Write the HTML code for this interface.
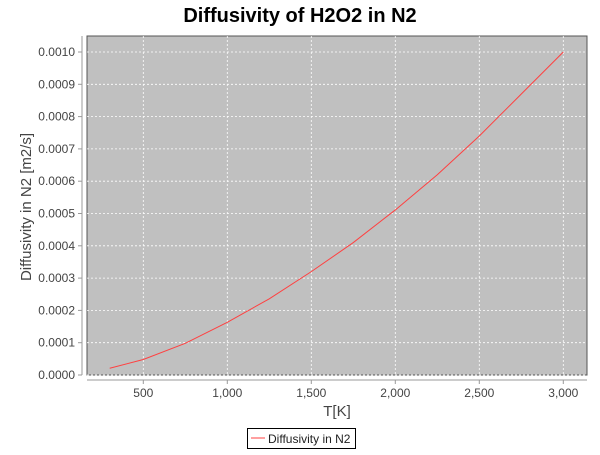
<!DOCTYPE html>
<html><head><meta charset="utf-8"><style>
body{margin:0;background:#fff;}
svg text{font-family:"Liberation Sans",sans-serif;}
</style></head><body>
<svg width="600" height="450">
<text x="300" y="22" text-anchor="middle" font-size="20" font-weight="bold" fill="#000">Diffusivity of H2O2 in N2</text>
<rect x="87" y="36" width="500" height="339" fill="#c0c0c0" stroke="#555" stroke-width="1"/>
<g id="grid"></g>
<line x1="82" y1="36" x2="82" y2="375" stroke="#999"/>
<line x1="87" y1="380" x2="587" y2="380" stroke="#999"/>
<g id="ticks"></g>
<polyline id="series" fill="none" stroke="#ff4040" stroke-width="1"/>
<text x="337" y="416" text-anchor="middle" font-size="15" fill="#444">T[K]</text>
<text transform="translate(31,207) rotate(-90)" text-anchor="middle" font-size="15" fill="#444">Diffusivity in N2 [m2/s]</text>
<g>
<rect x="247.5" y="428.5" width="108" height="20" fill="#fff" stroke="#000"/>
<line x1="251" y1="438" x2="265" y2="438" stroke="#ff4040"/>
<text x="268" y="443" font-size="12" fill="#222">Diffusivity in N2</text>
</g>
</svg>
<script>
const temps=[300,500,750,1000,1250,1500,1750,2000,2250,2500,2750,3000];
const diffs=[0.000021,0.000048,0.000098,0.000163,0.000236,0.00032,0.00041,0.000511,0.00062,0.00074,0.00087,0.00100];
const xTicks=[500,1000,1500,2000,2500,3000];
const xTickLabels=["500","1,000","1,500","2,000","2,500","3,000"];
const yTicks=[0,0.0001,0.0002,0.0003,0.0004,0.0005,0.0006,0.0007,0.0008,0.0009,0.0010];
const ns="http://www.w3.org/2000/svg";
const xs=v=>143.3+(v-500)*84/500;
const ys=v=>375-v*323000;
const grid=document.getElementById('grid'),ticks=document.getElementById('ticks');
function mk(tag,attrs,parent){const e=document.createElementNS(ns,tag);for(const k in attrs)e.setAttribute(k,attrs[k]);parent.appendChild(e);return e;}
xTicks.forEach((t,i)=>{
 const g=mk('line',{x1:xs(t),x2:xs(t),y1:36,y2:375,stroke:'#fff','stroke-dasharray':'2,2','stroke-width':0.8},grid);
 
 
 mk('line',{x1:xs(t),x2:xs(t),y1:380,y2:384,stroke:'#999'},ticks);
 const tx=mk('text',{x:xs(t),y:397,'text-anchor':'middle','font-size':12,fill:'#444'},ticks);
 tx.textContent=xTickLabels[i];
 
 
});
yTicks.forEach(t=>{
 const g=mk('line',{x1:87,x2:587,y1:ys(t),y2:ys(t),stroke:'#fff','stroke-dasharray':'2,2','stroke-width':0.8},grid);
 
 
 mk('line',{x1:78,x2:82,y1:ys(t),y2:ys(t),stroke:'#999'},ticks);
 const tx=mk('text',{x:75,y:ys(t)+4,'text-anchor':'end','font-size':12,fill:'#444'},ticks);
 tx.textContent=t.toFixed(4);
 
 
});
document.getElementById('series').setAttribute('points',temps.map((t,i)=>xs(t)+','+ys(diffs[i])).join(' '));
</script>
</body></html>
